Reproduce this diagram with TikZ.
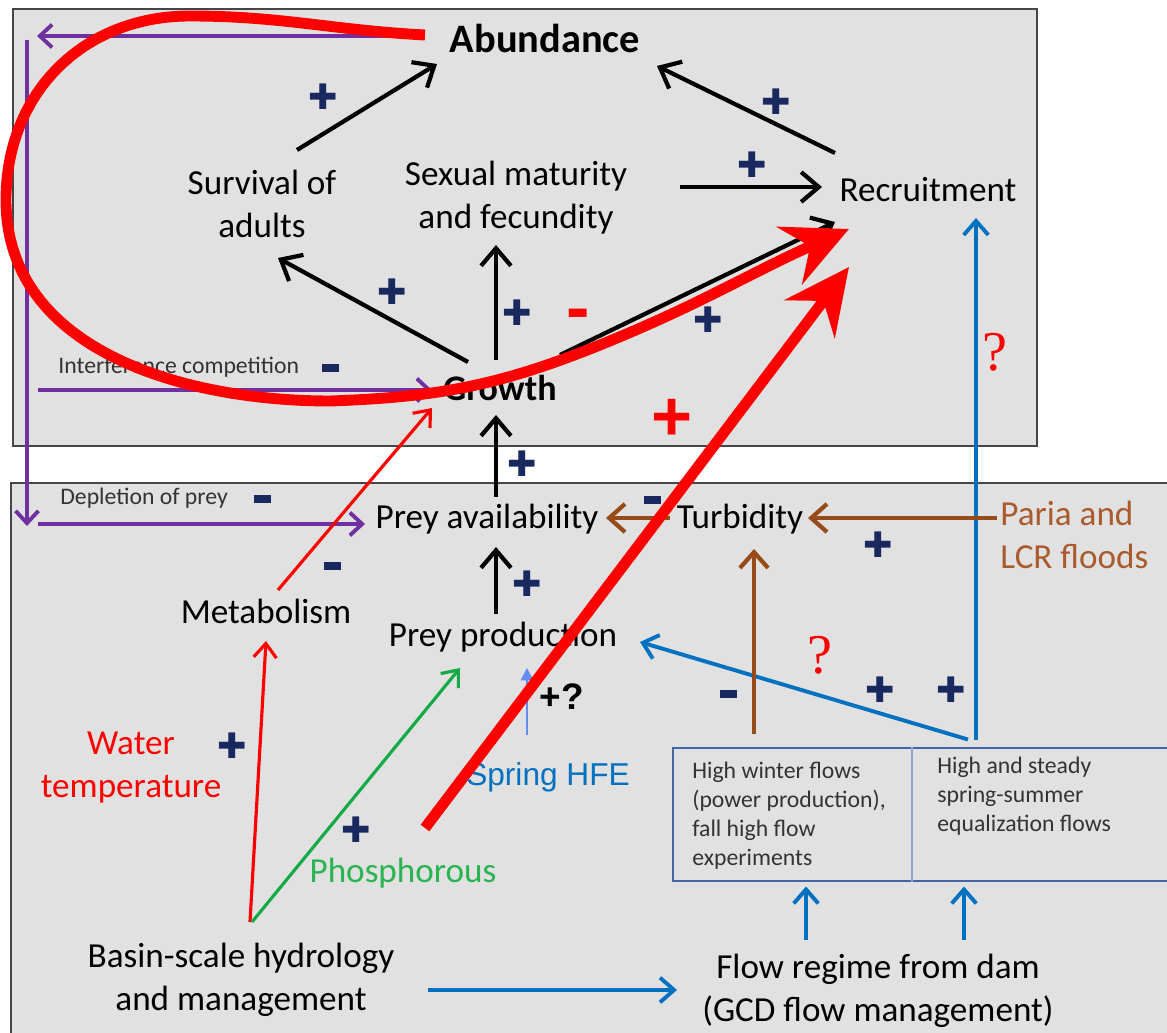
\documentclass[tikz,border=0pt]{standalone}
\usepackage{fontspec}
\setmainfont{Carlito}
\newfontfamily\arialf{Liberation Sans}
\newfontfamily\timesf{Liberation Serif}
\newfontfamily\djv{DejaVu Sans}
\usetikzlibrary{arrows.meta}
\definecolor{boxgray}{RGB}{225,225,225}
\definecolor{panelline}{RGB}{70,70,70}
\definecolor{navy}{RGB}{25,40,95}
\definecolor{purp}{RGB}{112,48,160}
\definecolor{blu}{RGB}{0,112,192}
\definecolor{brn}{RGB}{150,75,25}
\definecolor{brtext}{RGB}{170,90,45}
\definecolor{grn}{RGB}{20,170,70}
\definecolor{phgreen}{RGB}{40,180,80}
\definecolor{sprblue}{RGB}{100,140,240}
\definecolor{boxblue}{RGB}{70,100,170}
\definecolor{hfeblue}{RGB}{0,112,192}
\begin{document}
\begin{tikzpicture}[x=0.02cm,y=-0.02cm,
  panel/.style={draw=panelline, fill=boxgray, line width=1.2pt},
  lbl/.style={font={\fontsize{20}{24.5}\selectfont}, inner sep=0pt, align=center},
  small/.style={font={\fontsize{13.5}{16.4}\selectfont}, text=black!80, inner sep=0pt},
  boxtxt/.style={font={\fontsize{13.5}{16.4}\selectfont}, text=black!80, inner sep=0pt, align=left},
  signplus/.style={font={\djv\fontsize{20}{20}\selectfont}, text=navy, inner sep=0pt},
  signminus/.style={fill=navy, minimum width=0.34cm, minimum height=0.15cm, inner sep=0pt},
  redsign/.style={font={\arialf\bfseries\fontsize{40}{40}\selectfont}, text=red, inner sep=0pt},
  redq/.style={font={\timesf\fontsize{32}{32}\selectfont}, text=red, inner sep=0pt},
  flowbox/.style={draw=boxblue, line width=1.2pt, minimum width=10.04cm, minimum height=2.66cm, inner sep=0pt},
  blk/.style={draw=black, line width=2.4pt, -{Straight Barb[length=10pt,width=17pt]}},
  purpar/.style={draw=purp, line width=2.2pt, -{Straight Barb[length=7pt,width=13pt]}},
  redthin/.style={draw=red, line width=1.8pt, -{Straight Barb[length=8pt,width=13pt]}},
  greenar/.style={draw=grn, line width=1.8pt, -{Straight Barb[length=8pt,width=13pt]}},
  bluear/.style={draw=blu, line width=2.2pt, -{Straight Barb[length=8pt,width=14pt]}},
  brar/.style={draw=brn, line width=2.4pt, -{Straight Barb[length=9pt,width=16pt]}},
  springar/.style={draw=sprblue, line width=1.1pt, -{Triangle[length=7pt,width=7pt]}},
  redthick/.style={draw=red, line width=6.2pt, -{Stealth[length=1.3cm,width=1.25cm,inset=0.45cm]}}
]
\useasboundingbox (0,0) rectangle (1167,1033);
\clip (0,0) rectangle (1167,1033);
\fill[white] (0,0) rectangle (1167,1033);

% panels
\draw[panel] (13,9) rectangle (1037,446);
\draw[panel] (11,483) rectangle (1180,1045);

% nodes
\node[lbl, font={\fontsize{23}{23}\selectfont\bfseries}] (abund) at (545,38) {Abundance};
\node[lbl] (surv) at (262,204) {Survival of\\adults};
\node[lbl] (sex) at (516,198) {Sexual maturity\\and fecundity};
\node[lbl] (recr) at (928,190) {Recruitment};
\node[lbl, font={\fontsize{20.5}{20.5}\selectfont\bfseries}] (grow) at (500,388) {Growth};
\node[small, anchor=west] (interf) at (58,367) {Interference competition};
\node[small, anchor=west] (deplet) at (60,498) {Depletion of prey};
\node[lbl] (preyav) at (487,519) {Prey availability};
\node[lbl] (turb) at (740,519) {Turbidity};
\node[lbl, text=brtext, align=left, anchor=west] (paria) at (1000,535) {Paria and\\LCR floods};
\node[lbl] (metab) at (266,611) {Metabolism};
\node[lbl] (preyprod) at (503,637) {Prey production};
\node[inner sep=0pt, font={\arialf\bfseries\fontsize{21}{21}\selectfont}] (plusq) at (562,697) {+?};
\node[inner sep=0pt, text=hfeblue, font={\arialf\fontsize{18}{18}\selectfont}] (spring) at (548,777) {Spring HFE};
\node[lbl, text=red] (water) at (131,768) {Water\\temperature};
\node[lbl, text=phgreen] (phos) at (403,873) {Phosphorous};
\node[lbl] (basin) at (241,980) {Basin-scale hydrology\\and management};
\node[lbl] (flowreg) at (878,991) {Flow regime from dam\\(GCD flow management)};
\node[flowbox] (fbox) at (924,814.5) {};
\draw[boxblue!60, line width=0.8pt] ([shift={(-12,0)}]fbox.north) -- ([shift={(-12,0)}]fbox.south);
\node[boxtxt, anchor=north west] (hwf) at (692,762) {High winter flows\\(power production),\\fall high flow\\experiments};
\node[boxtxt, anchor=north west] (hsf) at (937,757) {High and steady\\spring-summer\\equalization flows};

% signs
\node[signplus] (pl1) at (323,97) {✚};
\node[signplus] (pl2) at (776,102) {✚};
\node[signplus] (pl3) at (752,165) {✚};
\node[signplus] (pl4) at (392,292) {✚};
\node[signplus] (pl5) at (517,313) {✚};
\node[signplus] (pl6) at (708,320) {✚};
\node[signplus] (pl7) at (522,464) {✚};
\node[signplus] (pl8) at (527,584) {✚};
\node[signplus] (pl9) at (878,545) {✚};
\node[signplus] (pl10) at (880,690) {✚};
\node[signplus] (pl11) at (951,690) {✚};
\node[signplus] (pl12) at (232,746) {✚};
\node[signplus] (pl13) at (356,830) {✚};
\node[signminus] (mi1) at (330,368) {};
\node[signminus] (mi2) at (262,499) {};
\node[signminus] (mi3) at (332,566) {};
\node[signminus] (mi4) at (728,694) {};
\node[signminus] (mi5) at (652,500) {};

% black arrows
\draw[blk] ([shift={(35,-54)}]surv.center) -- ([shift={(-108,26)}]abund.center);
\draw[blk] ([shift={(-93,-37)}]recr.center) -- ([shift={(112,28)}]abund.center);
\draw[blk] ([shift={(164,-11)}]sex.center) -- ([shift={(-106,-3)}]recr.center);
\draw[blk] ([shift={(-32,-26)}]grow.center) -- ([shift={(16,54)}]surv.center);
\draw[blk] ([shift={(-4,-28)}]grow.center) -- ([shift={(-20,47)}]sex.center);
\draw[blk] ([shift={(60,-33)}]grow.center) -- ([shift={(-93,32)}]recr.center);
\draw[blk] ([shift={(9,-22)}]preyav.center) -- ([shift={(-4,27)}]grow.center);
\draw[blk] ([shift={(-7,-23)}]preyprod.center) -- ([shift={(9,28)}]preyav.center);

% purple arrows
\coordinate (pTL) at (37,36);
\coordinate (pVT) at (27,40);
\coordinate (pVB) at (27,526);
\coordinate (pI) at (38,390);
\coordinate (pD) at (38,524);
\draw[purpar] ([shift={(-125,-2)}]abund.center) -- (pTL);
\draw[purpar] (pVT) -- (pVB);
\draw[purpar] (pI) -- ([shift={(-68,2)}]grow.center);
\draw[purpar] (pD) -- ([shift={(-122,5)}]preyav.center);

% red thin and green
\draw[redthin] ([shift={(12,-21)}]metab.center) -- ([shift={(-68,20)}]grow.center);
\draw[redthin] ([shift={(9,-58)}]basin.center) -- ([shift={(0,30)}]metab.center);
\draw[greenar] ([shift={(11,-58)}]basin.center) -- ([shift={(-43,31)}]preyprod.center);

% blue
\draw[bluear] ([shift={(187,10)}]basin.center) -- ([shift={(-201,-1)}]flowreg.center);
\draw[bluear] ([shift={(-72,-51)}]flowreg.center) -- ([shift={(-118,72)}]fbox.center);
\draw[bluear] ([shift={(86,-51)}]flowreg.center) -- ([shift={(40,72)}]fbox.center);
\draw[bluear] ([shift={(52,-74)}]fbox.center) -- ([shift={(48,28)}]recr.center);
\draw[bluear] ([shift={(44,-75)}]fbox.center) -- ([shift={(137,5)}]preyprod.center);
\draw[springar] ([shift={(-21,-42)}]spring.center) -- ([shift={(24,31)}]preyprod.center);

% brown
\draw[brar] ([shift={(-3,-17)}]paria.west) -- ([shift={(68,-1)}]turb.center);
\draw[brar] ([shift={(-170,-80)}]fbox.center) -- ([shift={(14,30)}]turb.center);
\draw[brar] ([shift={(-70,-1)}]turb.center) -- ([shift={(119,-1)}]preyav.center);

% red overlay
\draw[redthick] ([shift={(-120,-3)}]abund.center) to[out=177,in=0] (190,16) to[out=180,in=90,looseness=1.05] (6,200) to[out=270,in=180] (330,401) to[out=2,in=202] (600,345) to[out=22,in=204] ([shift={(-79,39)}]recr.center);
\draw[redthick] ([shift={(22,-45)}]phos.center) -- ([shift={(-79,77)}]recr.center);
\node[redsign] (rplus) at (672,420) {+};
\node[redsign] (rminus) at (578,320) {-};
\node[redq] (q1) at (995,352) {?};
\node[redq] (q2) at (820,655) {?};
\end{tikzpicture}
\end{document}
